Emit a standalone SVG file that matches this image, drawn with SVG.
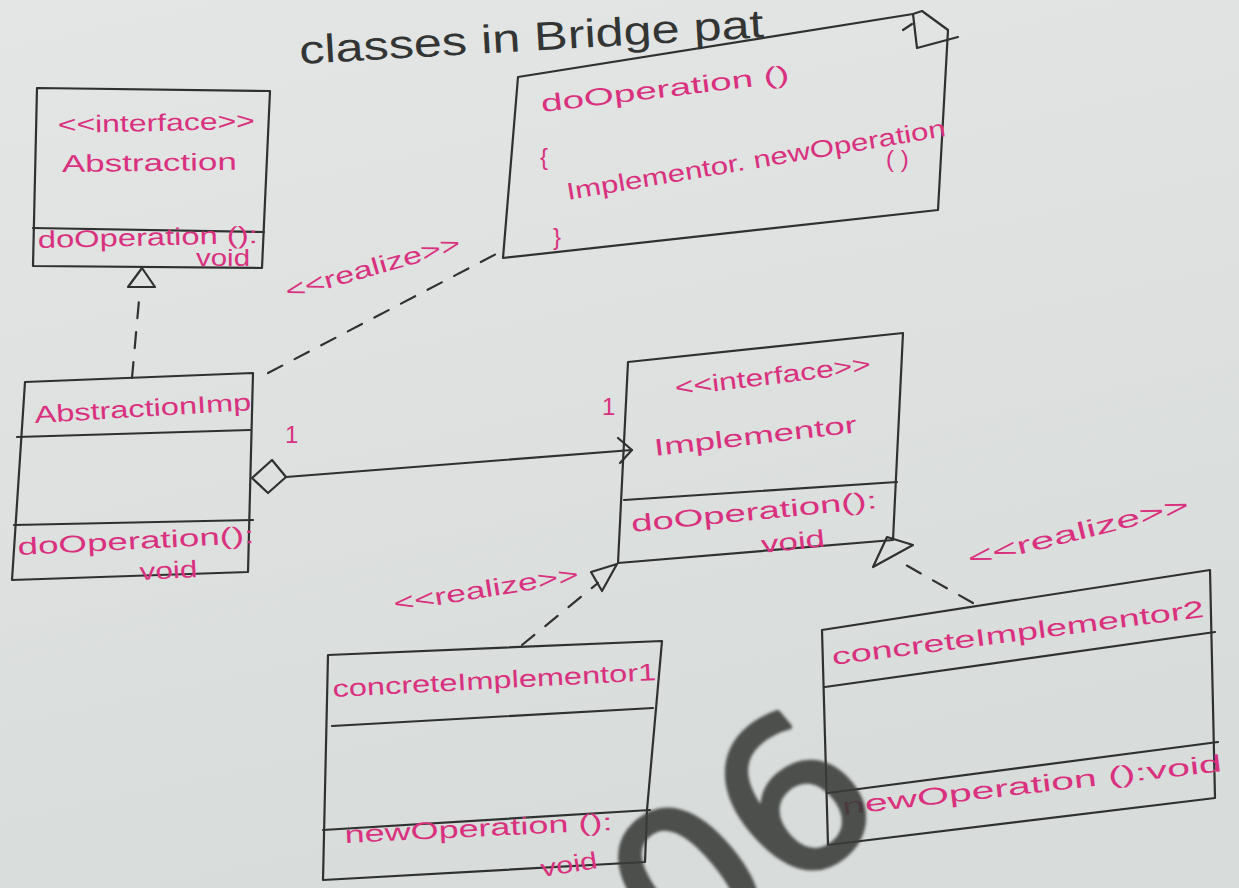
<svg xmlns="http://www.w3.org/2000/svg" width="1239" height="888" viewBox="0 0 1239 888">
  <defs>
    <linearGradient id="paper" x1="0" y1="0" x2="0.3" y2="1">
      <stop offset="0" stop-color="#e3e6e4"/>
      <stop offset="1" stop-color="#d8dcda"/>
    </linearGradient>
    <filter id="soft" x="-10%" y="-10%" width="120%" height="120%">
      <feGaussianBlur stdDeviation="1.4"/>
    </filter>
    <style>
      .ink { fill: none; stroke: #2f3130; stroke-width: 2.2; stroke-linejoin: round; stroke-linecap: round; }
      .dash { fill: none; stroke: #2f3130; stroke-width: 2.2; stroke-dasharray: 16 14; stroke-linecap: round; }
      .head { fill: none; stroke: #2f3130; stroke-width: 2.2; stroke-linejoin: round; }
      .pink { fill: #d9317f; font-family: "Liberation Sans", Arial, sans-serif; font-size: 24px; }
      .title { fill: #333534; font-family: "Liberation Sans", Arial, sans-serif; font-size: 40px; }
      .mark { fill: #3a3c3b; stroke: #3a3c3b; stroke-width: 5; stroke-linejoin: round; opacity: 0.88; font-family: "DejaVu Sans", sans-serif; }
    </style>
  </defs>

  <rect width="1239" height="888" fill="url(#paper)"/>

  <text class="title" x="300" y="64" transform="rotate(-3.3 300 64)" textLength="465" lengthAdjust="spacingAndGlyphs">classes in Bridge pat</text>

  <!-- Abstraction interface -->
  <g id="abstraction">
    <path class="ink" d="M37,88 L270,91 L262,268 L33,266 Z"/>
    <path class="ink" d="M33,228 L264,232"/>
    <text class="pink" x="58" y="133" transform="rotate(-1.2 58 133)" textLength="197" lengthAdjust="spacingAndGlyphs">&lt;&lt;interface&gt;&gt;</text>
    <text class="pink" x="62" y="172" transform="rotate(-0.7 62 172)" textLength="175" lengthAdjust="spacingAndGlyphs">Abstraction</text>
    <text class="pink" x="38" y="248" font-size="22" transform="rotate(-1.3 38 248)" textLength="220" lengthAdjust="spacingAndGlyphs">doOperation ():</text>
    <text class="pink" x="196" y="266" textLength="54" lengthAdjust="spacingAndGlyphs">void</text>
  </g>

  <!-- note attached to AbstractionImp, folded top-right corner -->
  <g id="note">
    <path class="ink" d="M518,77 L913,14 L922,11 L948,30 L938,210 L503,258 Z"/>
    <path class="ink" d="M913,14 L917,48 L958,37"/>
    <path class="ink" d="M903,30 L912,24"/>
    <text class="pink" x="542" y="112" font-size="28" transform="rotate(-6.9 542 112)" textLength="250" lengthAdjust="spacingAndGlyphs">doOperation ()</text>
    <text class="pink" x="540" y="165" font-size="28">{</text>
    <text class="pink" x="568" y="200" transform="rotate(-9.6 568 200)" textLength="384" lengthAdjust="spacingAndGlyphs">Implementor. newOperation</text>
    <text class="pink" x="886" y="167" font-size="18">( )</text>
    <text class="pink" x="553" y="245" font-size="28">}</text>
  </g>

  <!-- AbstractionImp class -->
  <g id="abstraction-imp">
    <path class="ink" d="M25,382 L253,373 L248,572 L12,580 Z"/>
    <path class="ink" d="M17,437 L250,430"/>
    <path class="ink" d="M14,525 L253,520"/>
    <text class="pink" x="35" y="423" transform="rotate(-3.4 35 423)" textLength="217" lengthAdjust="spacingAndGlyphs">AbstractionImp</text>
    <text class="pink" x="18" y="555" transform="rotate(-2.9 18 555)" textLength="237" lengthAdjust="spacingAndGlyphs">doOperation():</text>
    <text class="pink" x="140" y="580" transform="rotate(-3 140 580)" textLength="58" lengthAdjust="spacingAndGlyphs">void</text>
  </g>

  <!-- Implementor interface -->
  <g id="implementor">
    <path class="ink" d="M628,362 L903,333 L893,540 L618,563 Z"/>
    <path class="ink" d="M624,500 L897,482"/>
    <text class="pink" x="676" y="396" transform="rotate(-7 676 396)" textLength="197" lengthAdjust="spacingAndGlyphs">&lt;&lt;interface&gt;&gt;</text>
    <text class="pink" x="655" y="456" font-size="26" transform="rotate(-6.7 655 456)" textLength="204" lengthAdjust="spacingAndGlyphs">Implementor</text>
    <text class="pink" x="632" y="532" transform="rotate(-5.6 632 532)" textLength="247" lengthAdjust="spacingAndGlyphs">doOperation():</text>
    <text class="pink" x="762" y="553" transform="rotate(-6 762 553)" textLength="64" lengthAdjust="spacingAndGlyphs">void</text>
  </g>

  <!-- concreteImplementor1 class -->
  <g id="concrete-implementor-1">
    <path class="ink" d="M328,655 L662,641 L647,810 L645,862 L323,880 Z"/>
    <path class="ink" d="M332,726 L653,708"/>
    <path class="ink" d="M323,830 L650,810"/>
    <text class="pink" x="333" y="697" transform="rotate(-3 333 697)" textLength="324" lengthAdjust="spacingAndGlyphs">concreteImplementor1</text>
    <text class="pink" x="345" y="843" transform="rotate(-2.8 345 843)" textLength="268" lengthAdjust="spacingAndGlyphs">newOperation ():</text>
    <text class="pink" x="542" y="877" transform="rotate(-9 542 877)" textLength="57" lengthAdjust="spacingAndGlyphs">void</text>
  </g>

  <!-- concreteImplementor2 class -->
  <g id="concrete-implementor-2">
    <path class="ink" d="M822,630 L1210,570 L1215,798 L828,845 Z"/>
    <path class="ink" d="M825,687 L1215,632"/>
    <path class="ink" d="M828,793 L1218,742"/>
    <text class="pink" x="833" y="665" transform="rotate(-7.4 833 665)" textLength="375" lengthAdjust="spacingAndGlyphs">concreteImplementor2</text>
    <text class="pink" x="843" y="815" transform="rotate(-6.6 843 815)" textLength="382" lengthAdjust="spacingAndGlyphs">newOperation ():void</text>
  </g>

  <!-- connectors -->
  <g id="connectors">
    <!-- AbstractionImp realizes Abstraction -->
    <path class="dash" d="M132,378 L140,289"/>
    <path class="head" d="M142,268 L155,287 L128,287 Z"/>

    <!-- note link -->
    <path class="dash" d="M268,373 L500,252"/>
    <text class="pink" x="288" y="300" transform="rotate(-16 288 300)" textLength="181" lengthAdjust="spacingAndGlyphs">&lt;&lt;realize&gt;&gt;</text>

    <!-- aggregation AbstractionImp to Implementor -->
    <path class="head" d="M252,478 L272,460 L286,477 L268,493 Z"/>
    <path class="ink" d="M286,477 L632,450"/>
    <path class="ink" d="M618,438 L632,450 L620,463"/>
    <text class="pink" x="285" y="443" font-size="22">1</text>
    <text class="pink" x="602" y="415" font-size="22">1</text>

    <!-- concreteImplementor1 realizes Implementor -->
    <path class="dash" d="M522,645 L598,583"/>
    <path class="head" d="M617,564 L591,572 L602,591 Z"/>
    <text class="pink" x="395" y="612" transform="rotate(-9.2 395 612)" textLength="187" lengthAdjust="spacingAndGlyphs">&lt;&lt;realize&gt;&gt;</text>

    <!-- concreteImplementor2 realizes Implementor -->
    <path class="dash" d="M973,603 L897,560"/>
    <path class="head" d="M887,537 L913,545 L873,567 Z"/>
    <text class="pink" x="970" y="567" transform="rotate(-14 970 567)" textLength="227" lengthAdjust="spacingAndGlyphs">&lt;&lt;realize&gt;&gt;</text>
  </g>

  <!-- stamped number over the lower part of the sheet -->
  <g id="stamp" filter="url(#soft)">
    <text class="mark" x="0" y="0" font-size="210" transform="translate(687,984) rotate(-40)">06</text>
  </g>
</svg>
